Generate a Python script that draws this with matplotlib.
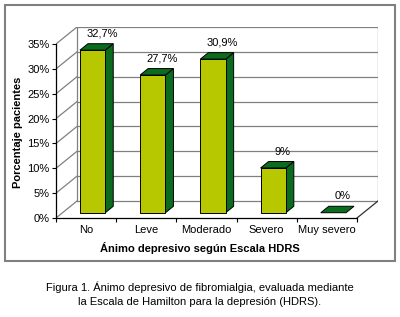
import matplotlib
matplotlib.use("Agg")
import matplotlib.pyplot as plt
from matplotlib.patches import Polygon, Rectangle
from matplotlib.lines import Line2D

categories = ["No", "Leve", "Moderado", "Severo", "Muy severo"]
values = [32.7, 27.7, 30.9, 9.0, 0.0]
value_labels = ["32,7%", "27,7%", "30,9%", "9%", "0%"]
yticks = [0, 5, 10, 15, 20, 25, 30, 35]
ytick_labels = ["0%", "5%", "10%", "15%", "20%", "25%", "30%", "35%"]
ylabel = "Porcentaje pacientes"
xlabel = "Ánimo depresivo según Escala HDRS"
caption = ["Figura 1. Ánimo depresivo de fibromialgia, evaluada mediante",
           "la Escala de Hamilton para la depresión (HDRS)."]

plt.rcParams['font.family'] = ['Liberation Sans', 'DejaVu Sans']

W, H = 400, 317
fig = plt.figure(figsize=(W / 100, H / 100), dpi=100)

# pixel geometry of the front plane
x0_px, x1_px = 56, 357
y0_px, y35_px = 218, 44
dx_px, dy_px = 21, 17

n = len(categories)
ymax = yticks[-1]
ux = (x1_px - x0_px) / n          # px per category
uy = (y0_px - y35_px) / ymax      # px per %
kx = dx_px / ux                   # depth shift in x data units
ky = dy_px / uy                   # depth shift in y data units

left = x0_px / W
bottom = (H - y0_px) / H
width = (x1_px - x0_px + dx_px) / W
height = (y0_px - y35_px + dy_px) / H
ax = fig.add_axes([left, bottom, width, height])
ax.set_xlim(0, n + kx)
ax.set_ylim(0, ymax + ky)
ax.patch.set_visible(False)

def P(x, y, z):
    return (x + z * kx, y + z * ky)

grid_c = "#808080"
# side wall diagonals + back wall gridlines
for t in yticks:
    ax.add_line(Line2D([0, kx], [t, t + ky], color=grid_c, lw=0.9, zorder=1))
    ax.add_line(Line2D([kx, n + kx], [t + ky, t + ky], color=grid_c, lw=0.9, zorder=1))
# wall edges
ax.add_line(Line2D([kx, kx], [ky, ymax + ky], color=grid_c, lw=0.9, zorder=1))
ax.add_line(Line2D([n + kx, n + kx], [ky, ymax + ky], color=grid_c, lw=0.9, zorder=1))
ax.add_line(Line2D([n, n + kx], [0, ky], color="#303030", lw=0.9, zorder=1))

for s in ["top", "right"]:
    ax.spines[s].set_visible(False)
ax.spines["left"].set_bounds(0, ymax)
ax.spines["bottom"].set_bounds(0, n)
ax.spines["left"].set_linewidth(0.9)
ax.spines["bottom"].set_linewidth(0.9)

ax.set_yticks(yticks)
ax.set_yticklabels(ytick_labels, fontsize=8)
ax.tick_params(axis="y", direction="out", length=3, width=0.8, pad=1.5)
ax.set_xticks([i + 0.5 for i in range(n)])
ax.set_xticklabels(categories, fontsize=8)
ax.set_xticks(range(n + 1), minor=True)
ax.tick_params(axis="x", which="major", length=0, pad=5)
ax.tick_params(axis="x", which="minor", direction="out", length=3, width=0.8)

front_c = "#b7c800"
dark_c = "#0b6b1f"
hw = 0.21
z0, z1 = 0.31, 0.69
for i, v in enumerate(values):
    c = i + 0.5
    xl, xr = c - hw, c + hw
    front = [P(xl, 0, z0), P(xr, 0, z0), P(xr, v, z0), P(xl, v, z0)]
    side = [P(xr, 0, z0), P(xr, v, z0), P(xr, v, z1), P(xr, 0, z1)]
    top = [P(xl, v, z0), P(xr, v, z0), P(xr, v, z1), P(xl, v, z1)]
    if v > 0:
        ax.add_patch(Polygon(side, closed=True, fc=dark_c, ec="black", lw=0.7, zorder=3))
        ax.add_patch(Polygon(front, closed=True, fc=front_c, ec="black", lw=0.7, zorder=4))
    ax.add_patch(Polygon(top, closed=True, fc=dark_c, ec="black", lw=0.7, zorder=4))
    lx = c + 0.76 * kx
    ly = v + z1 * ky
    ax.annotate(value_labels[i], (lx, ly), xytext=(0, 3.5), textcoords="offset points",
                ha="center", va="bottom", fontsize=8, zorder=5)

ax.set_ylabel(ylabel, fontsize=8, fontweight="bold")
ax.yaxis.set_label_coords(-33 / (width * W), (y0_px - 132) / (height * H))
fig.text(200 / W, 1 - 248 / H, xlabel, ha="center", va="center", fontsize=8, fontweight="bold")

fig.text(200 / W, 1 - 287 / H, caption[0], ha="center", va="center", fontsize=8)
fig.text(200 / W, 1 - 302 / H, caption[1], ha="center", va="center", fontsize=8)

fig.add_artist(Rectangle((4.5 / W, 1 - 261 / H), 390.5 / W, 256 / H, transform=fig.transFigure,
                         fill=False, ec="#808080", lw=1.5))

fig.savefig("out.png", dpi=100)
